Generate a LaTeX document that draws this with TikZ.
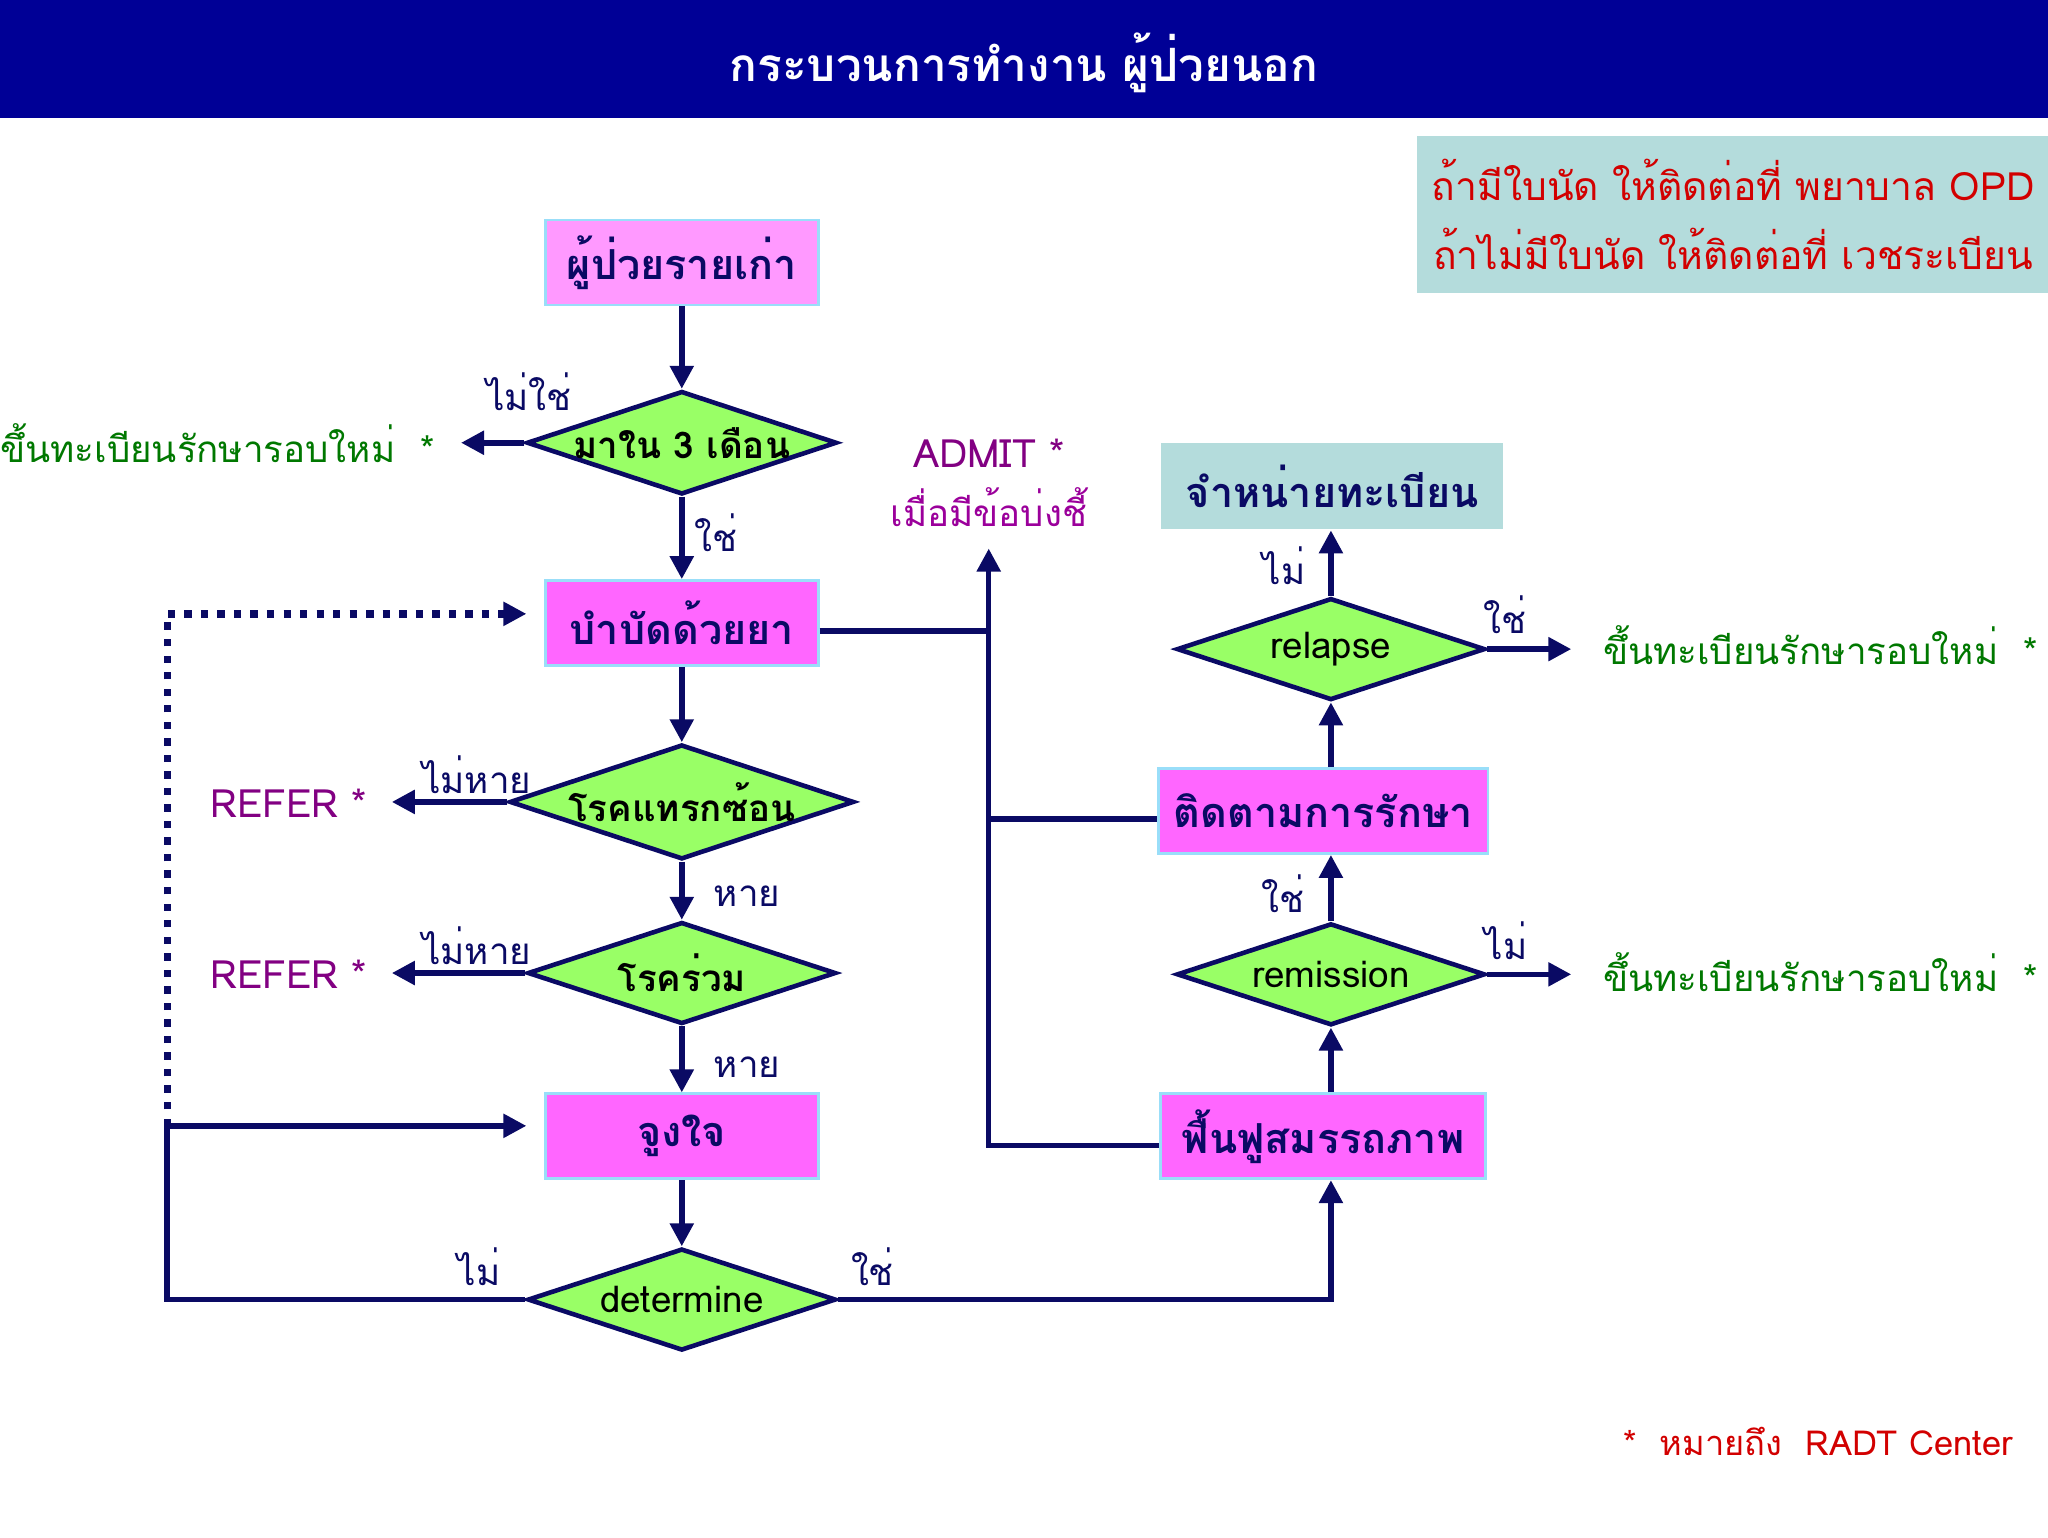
\documentclass[tikz,border=0pt]{standalone}
\usepackage{fontspec}
\IfFontExistsTF{Loma}{\setmainfont{Loma}}{%
 \IfFontExistsTF{Garuda}{\setmainfont{Garuda}}{%
  \IfFontExistsTF{Waree}{\setmainfont{Waree}}{%
   \IfFontExistsTF{Noto Sans Thai}{\setmainfont{Noto Sans Thai}}{\setmainfont{Noto Sans}}}}}
\usetikzlibrary{shapes.geometric,arrows.meta}
\definecolor{navy}{RGB}{0,0,150}
\definecolor{ln}{RGB}{10,10,100}
\definecolor{pk}{RGB}{255,153,255}
\definecolor{mg}{RGB}{255,102,255}
\definecolor{gr}{RGB}{153,255,102}
\definecolor{tl}{RGB}{180,220,220}
\definecolor{dg}{RGB}{0,120,0}
\definecolor{pu}{RGB}{130,0,130}
\definecolor{rd}{RGB}{210,0,0}
\begin{document}
\begin{tikzpicture}[x=0.01cm,y=-0.01cm,
 box/.style={draw=cyan!40,line width=0.6pt,minimum width=2.09cm,minimum height=0.65cm,font=\fontsize{9}{10}\selectfont\bfseries,text=ln},
 dia/.style={diamond,draw=ln,line width=1pt,fill=gr,aspect=3,minimum width=2.36cm,minimum height=0.78cm,inner sep=0pt,font=\fontsize{8}{9}\selectfont,text=black},
 ar/.style={draw=ln,line width=1.2pt,-{Triangle[length=5pt,width=5pt]}},
 l/.style={draw=ln,line width=1.2pt},
 lab/.style={font=\fontsize{8}{9}\selectfont,text=ln},
 gt/.style={font=\fontsize{8}{9}\selectfont,text=dg}]
\useasboundingbox (0,0) rectangle (1568,1177);
\fill[navy] (0,0) rectangle (1568,90);
\node[text=white,font=\fontsize{10}{12}\selectfont\bfseries] (title) at (784,48) {กระบวนการทำงาน ผู้ป่วยนอก};
\node[fill=tl,minimum width=4.58cm,minimum height=1.2cm,text=rd,font=\fontsize{8.5}{15}\selectfont,align=center] (note) at (1327,164) {ถ้ามีใบนัด ให้ติดต่อที่ พยาบาล OPD\\ถ้าไม่มีใบนัด ให้ติดต่อที่ เวชระเบียน};
\node[box,fill=pk] (b1) at (522,201) {ผู้ป่วยรายเก่า};
\node[dia,font=\fontsize{8}{9}\selectfont\bfseries] (d1) at (522,339) {มาใน 3 เดือน};
\node[box,fill=mg] (b2) at (522,477) {บำบัดด้วยยา};
\node[dia,font=\fontsize{8}{9}\selectfont\bfseries] (d2) at (522,614) {โรคแทรกซ้อน};
\node[dia,font=\fontsize{8}{9}\selectfont\bfseries] (d3) at (522,745) {โรคร่วม};
\node[box,fill=mg] (b3) at (522,870) {จูงใจ};
\node[dia] (d4) at (522,995) {determine};
\node[box,fill=mg,minimum width=2.49cm] (b4) at (1013,870) {ฟื้นฟูสมรรถภาพ};
\node[dia] (d5) at (1019,746) {remission};
\node[box,fill=mg,minimum width=2.49cm] (b5) at (1013,621) {ติดตามการรักษา};
\node[dia] (d6) at (1019,497) {relapse};
\node[box,fill=tl,draw=none,minimum width=2.62cm,minimum height=0.66cm] (b6) at (1020,372) {จำหน่ายทะเบียน};
\node[gt,anchor=east] (n1) at (345,339) {ขึ้นทะเบียนรักษารอบใหม่ \ *};
\node[gt,anchor=west] (n2) at (1215,494) {ขึ้นทะเบียนรักษารอบใหม่ \ *};
\node[gt,anchor=west] (n3) at (1215,744) {ขึ้นทะเบียนรักษารอบใหม่ \ *};
\node[text=pu,font=\fontsize{8.5}{9}\selectfont,anchor=east] (r1) at (293,615) {REFER *};
\node[text=pu,font=\fontsize{8.5}{9}\selectfont,anchor=east] (r2) at (293,746) {REFER *};
\node[text=pu,font=\fontsize{8.5}{9}\selectfont] (adm) at (757,347) {ADMIT *};
\node[text=pu!80!magenta,font=\fontsize{8}{9}\selectfont] (adm2) at (757,388) {เมื่อมีข้อบ่งชี้};
\node[text=rd,font=\fontsize{7.5}{9}\selectfont] (foot) at (1392,1104) {* \ หมายถึง \ RADT Center};
\node[lab] at (405,300) {ไม่ใช่};
\node[lab] at (548,408) {ใช่};
\node[lab] at (365,593) {ไม่หาย};
\node[lab] at (572,686) {หาย};
\node[lab] at (365,724) {ไม่หาย};
\node[lab] at (572,817) {หาย};
\node[lab] at (367,970) {ไม่};
\node[lab] at (668,970) {ใช่};
\node[lab] at (982,684) {ใช่};
\node[lab] at (1153,720) {ไม่};
\node[lab] at (983,433) {ไม่};
\node[lab] at (1152,471) {ใช่};
\coordinate (c1) at (353,339);
\coordinate (c2) at (300,614);
\coordinate (c3) at (300,745);
\coordinate (c4) at (1203,746);
\coordinate (c5) at (1203,497);
\coordinate (lp1) at (128,995);
\coordinate (lp2) at (128,862);
\coordinate (lp3) at (403,862);
\coordinate (lp4) at (128,470);
\coordinate (lp5) at (403,470);
\coordinate (v1) at (757,877);
\coordinate (v2) at (757,420);
\coordinate (v3) at (757,483);
\coordinate (v4) at (757,627);
\draw[ar] (b1) -- (d1);
\draw[ar] (d1) -- (b2);
\draw[ar] (b2) -- (d2);
\draw[ar] (d2) -- (d3);
\draw[ar] (d3) -- (b3);
\draw[ar] (b3) -- (d4);
\draw[ar] (d1.west) -- (c1);
\draw[ar] (d2.west) -- (c2);
\draw[ar] (d3.west) -- (c3);
\draw[ar] (d5.east) -- (c4);
\draw[ar] (d6.east) -- (c5);
\draw[ar] (d4.east) -| (b4.south -| d5);
\draw[ar] (b4.north -| d5) -- (d5);
\draw[ar] (d5) -- (b5.south -| d5);
\draw[ar] (b5.north -| d5) -- (d6);
\draw[ar] (d6) -- (b6.south -| d6);
\draw[l] (d4.west) -- (lp1) -- (lp2);
\draw[ar] (lp2) -- (lp3);
\draw[draw=ln,line width=1.6pt,dotted] (lp2) -- (lp4) -- (396,470);
\draw[ar] (396,470) -- (lp5);
\draw[ar] (b4.west |- v1) -- (v1) -- (v2);
\draw[l] (b2.east |- v3) -- (v3);
\draw[l] (b5.west |- v4) -- (v4);
\end{tikzpicture}
\end{document}
